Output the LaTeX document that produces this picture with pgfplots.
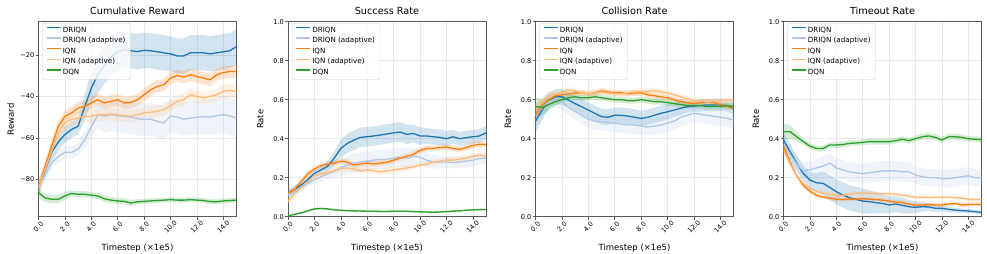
\documentclass[border=0pt]{standalone}
\usepackage{fontspec}
\setmainfont{DejaVu Sans}
\usepackage{pgfplots}
\pgfplotsset{compat=1.18}
\usepackage{pgfplotstable}
\usepgfplotslibrary{fillbetween}

\definecolor{cA}{HTML}{1F77B4}
\definecolor{cB}{HTML}{AEC7E8}
\definecolor{cC}{HTML}{FF7F0E}
\definecolor{cD}{HTML}{FFBB78}
\definecolor{cE}{HTML}{2CA02C}

% Cumulative reward
\pgfplotstableread{
x a as b bs c cs d ds e es
0.0 -84 3 -84 3 -84 3 -84 3 -86.4 2.5
0.5 -75.5 3 -78 3 -73.6 3 -75 3 -89 2
1.0 -67 4 -72 3 -64 3 -66.4 3 -89.6 2
1.5 -62 4 -69 3 -54.4 3 -57.6 3 -89.6 2
2.0 -58.4 4 -67 3 -49.6 3 -52.8 3 -88 2
2.5 -56 4 -67 3 -48 3 -51.2 3 -86.8 1.5
3.0 -54.4 4 -65.5 3 -45.6 3 -50.4 3 -87.2 1.5
3.5 -45 6 -61 4 -44.8 3 -49.6 3 -87.2 1.5
4.0 -36 8 -54.5 5 -43.2 3 -49.6 3 -87.6 1.5
4.5 -29.5 9 -49 6 -41.6 3 -48.8 3 -88 1.5
5.0 -25 9 -49.5 8 -43.2 3 -48.8 3 -89.4 1.5
5.5 -21 9 -48.8 8 -42.4 3 -48.5 3 -90 1.5
6.0 -18.5 9 -49.5 8 -41.6 3 -48.8 3 -90.4 1.5
6.5 -17.5 9 -49.5 8 -43.2 3 -49.3 3 -90.6 1.5
7.0 -18 8.5 -50 8 -42.9 3 -49.6 3 -91.4 1.5
7.5 -18.4 8.5 -50.7 8 -41.6 3 -48.8 3 -90.8 1.2
8.0 -17.8 8.5 -51.2 8 -39.2 3 -48 3 -90.6 1.2
8.5 -18 8.5 -51 8 -36.8 3 -47.7 3 -90.4 1.2
9.0 -18.5 8.5 -52 8 -35.2 3 -47.2 3 -90.2 1.2
9.5 -19 8.5 -52.8 8 -34.4 3 -46.4 3 -90 1.2
10.0 -19.5 8.5 -49.5 8 -31.2 3 -44.5 3 -89.8 1.2
10.5 -20.5 8.5 -50 8 -30 3 -42.4 3 -90 1.2
11.0 -20.5 8.5 -51 8 -30.7 3 -41.6 3 -90 1.2
11.5 -19 8.5 -50.5 8 -29.6 3 -39.2 3 -89.8 1.2
12.0 -19 8.5 -50 8 -30.4 3 -40 3 -90 1.2
12.5 -19 8.5 -49.8 8.5 -31.2 3 -40.8 3 -90.2 1.2
13.0 -19.5 8.5 -50 8.5 -32 3 -40 3 -90.7 1.2
13.5 -19 8.5 -49.3 8.5 -29.6 3 -39.2 3 -90.8 1.2
14.0 -18.5 8.5 -48.8 9 -28.5 3 -37.6 3 -90.4 1.2
14.5 -18 8.5 -49.5 9 -28 3 -37.1 3 -90.2 1.2
15.0 -16 8.5 -50.4 9 -28 3 -37.6 3 -90 1.2
}\tabR

% Success rate
\pgfplotstableread{
x a as b bs c cs d ds e es
0.0 0.12 0.02 0.11 0.02 0.12 0.015 0.08 0.015 0.005 0.004
0.5 0.14 0.02 0.13 0.02 0.14 0.015 0.12 0.015 0.012 0.004
1.0 0.162 0.02 0.15 0.02 0.18 0.015 0.15 0.015 0.02 0.005
1.5 0.19 0.02 0.17 0.02 0.22 0.015 0.18 0.015 0.03 0.005
2.0 0.222 0.02 0.19 0.02 0.245 0.015 0.21 0.015 0.04 0.005
2.5 0.24 0.02 0.205 0.025 0.262 0.015 0.22 0.015 0.042 0.005
3.0 0.258 0.025 0.22 0.03 0.27 0.015 0.225 0.015 0.04 0.005
3.5 0.30 0.035 0.235 0.035 0.275 0.015 0.235 0.015 0.035 0.005
4.0 0.35 0.045 0.25 0.04 0.285 0.015 0.245 0.015 0.033 0.005
4.5 0.376 0.05 0.265 0.045 0.28 0.015 0.25 0.015 0.031 0.005
5.0 0.393 0.05 0.275 0.05 0.265 0.015 0.245 0.015 0.03 0.005
5.5 0.407 0.05 0.28 0.05 0.27 0.015 0.235 0.015 0.029 0.005
6.0 0.41 0.05 0.285 0.05 0.275 0.015 0.24 0.015 0.028 0.005
6.5 0.414 0.05 0.29 0.05 0.27 0.015 0.235 0.015 0.028 0.005
7.0 0.419 0.05 0.295 0.05 0.275 0.015 0.23 0.015 0.027 0.005
7.5 0.424 0.05 0.295 0.05 0.28 0.015 0.235 0.015 0.027 0.005
8.0 0.43 0.05 0.30 0.05 0.29 0.015 0.24 0.015 0.028 0.005
8.5 0.434 0.05 0.305 0.05 0.30 0.015 0.245 0.015 0.028 0.005
9.0 0.422 0.05 0.30 0.05 0.31 0.015 0.25 0.015 0.028 0.005
9.5 0.427 0.045 0.31 0.045 0.32 0.015 0.255 0.015 0.026 0.005
10.0 0.414 0.045 0.305 0.04 0.34 0.015 0.265 0.015 0.025 0.005
10.5 0.414 0.04 0.29 0.04 0.35 0.015 0.27 0.015 0.024 0.005
11.0 0.41 0.04 0.28 0.035 0.35 0.015 0.28 0.015 0.023 0.005
11.5 0.407 0.04 0.28 0.03 0.355 0.015 0.285 0.015 0.024 0.005
12.0 0.40 0.04 0.28 0.03 0.357 0.015 0.29 0.015 0.026 0.005
12.5 0.41 0.035 0.278 0.03 0.35 0.015 0.29 0.015 0.028 0.005
13.0 0.40 0.035 0.28 0.03 0.345 0.015 0.295 0.015 0.03 0.005
13.5 0.405 0.035 0.285 0.03 0.355 0.015 0.30 0.015 0.033 0.005
14.0 0.41 0.035 0.29 0.03 0.365 0.015 0.31 0.015 0.035 0.005
14.5 0.414 0.035 0.298 0.03 0.372 0.015 0.315 0.015 0.036 0.005
15.0 0.43 0.035 0.30 0.03 0.37 0.015 0.31 0.015 0.037 0.005
}\tabS

% Collision rate
\pgfplotstableread{
x a as b bs c cs d ds e es
0.0 0.49 0.06 0.52 0.06 0.52 0.03 0.55 0.03 0.565 0.05
0.5 0.547 0.05 0.56 0.05 0.57 0.02 0.59 0.02 0.56 0.04
1.0 0.598 0.04 0.59 0.04 0.60 0.02 0.62 0.02 0.575 0.03
1.5 0.615 0.04 0.60 0.04 0.62 0.015 0.63 0.015 0.59 0.02
2.0 0.615 0.04 0.59 0.04 0.625 0.015 0.64 0.015 0.60 0.015
2.5 0.598 0.04 0.56 0.04 0.63 0.015 0.65 0.015 0.61 0.015
3.0 0.58 0.04 0.54 0.04 0.635 0.015 0.645 0.015 0.615 0.015
3.5 0.564 0.04 0.52 0.045 0.635 0.015 0.635 0.015 0.61 0.015
4.0 0.547 0.04 0.50 0.045 0.63 0.015 0.63 0.015 0.61 0.015
4.5 0.53 0.04 0.49 0.045 0.635 0.015 0.635 0.015 0.615 0.015
5.0 0.513 0.04 0.485 0.045 0.645 0.015 0.64 0.015 0.61 0.015
5.5 0.51 0.04 0.485 0.045 0.64 0.015 0.635 0.015 0.605 0.015
6.0 0.52 0.04 0.48 0.045 0.635 0.015 0.63 0.015 0.60 0.015
6.5 0.52 0.04 0.475 0.045 0.635 0.015 0.63 0.015 0.60 0.015
7.0 0.516 0.04 0.47 0.045 0.63 0.015 0.635 0.015 0.595 0.015
7.5 0.51 0.04 0.47 0.045 0.635 0.015 0.64 0.015 0.595 0.015
8.0 0.504 0.04 0.465 0.045 0.635 0.015 0.64 0.015 0.60 0.015
8.5 0.51 0.04 0.46 0.045 0.625 0.015 0.645 0.015 0.595 0.015
9.0 0.52 0.04 0.465 0.045 0.62 0.015 0.645 0.015 0.59 0.015
9.5 0.53 0.04 0.47 0.045 0.615 0.015 0.64 0.015 0.59 0.015
10.0 0.538 0.04 0.48 0.045 0.61 0.015 0.635 0.015 0.585 0.015
10.5 0.547 0.035 0.49 0.045 0.60 0.015 0.625 0.015 0.58 0.015
11.0 0.556 0.035 0.51 0.045 0.59 0.015 0.615 0.015 0.575 0.015
11.5 0.564 0.03 0.52 0.045 0.585 0.015 0.605 0.015 0.57 0.015
12.0 0.567 0.03 0.53 0.045 0.58 0.015 0.595 0.015 0.57 0.015
12.5 0.57 0.03 0.525 0.045 0.585 0.015 0.595 0.015 0.57 0.015
13.0 0.573 0.03 0.52 0.045 0.59 0.015 0.59 0.015 0.565 0.015
13.5 0.573 0.03 0.515 0.045 0.585 0.015 0.59 0.015 0.565 0.015
14.0 0.573 0.03 0.51 0.045 0.575 0.015 0.595 0.015 0.565 0.015
14.5 0.57 0.03 0.505 0.045 0.565 0.015 0.60 0.015 0.57 0.015
15.0 0.555 0.03 0.495 0.045 0.56 0.015 0.595 0.015 0.565 0.015
}\tabC

% Timeout rate
\pgfplotstableread{
x a as b bs c cs d ds e es
0.0 0.393 0.04 0.37 0.04 0.36 0.02 0.34 0.02 0.436 0.04
0.5 0.333 0.04 0.32 0.04 0.28 0.015 0.27 0.015 0.436 0.035
1.0 0.274 0.04 0.27 0.04 0.21 0.01 0.21 0.01 0.41 0.025
1.5 0.222 0.04 0.235 0.04 0.16 0.01 0.17 0.01 0.385 0.015
2.0 0.188 0.04 0.24 0.04 0.13 0.01 0.145 0.01 0.362 0.015
2.5 0.174 0.05 0.25 0.045 0.11 0.01 0.13 0.01 0.35 0.015
3.0 0.171 0.06 0.26 0.05 0.10 0.01 0.12 0.01 0.35 0.015
3.5 0.15 0.065 0.275 0.05 0.095 0.01 0.115 0.01 0.368 0.015
4.0 0.128 0.065 0.25 0.05 0.09 0.01 0.11 0.01 0.368 0.015
4.5 0.111 0.065 0.24 0.05 0.088 0.01 0.11 0.01 0.37 0.015
5.0 0.097 0.065 0.23 0.05 0.09 0.01 0.115 0.01 0.376 0.015
5.5 0.089 0.065 0.225 0.05 0.09 0.01 0.12 0.01 0.378 0.015
6.0 0.08 0.065 0.22 0.05 0.092 0.01 0.12 0.01 0.381 0.015
6.5 0.077 0.06 0.225 0.05 0.09 0.01 0.12 0.01 0.385 0.015
7.0 0.072 0.055 0.23 0.05 0.088 0.01 0.118 0.01 0.385 0.015
7.5 0.068 0.05 0.235 0.05 0.085 0.01 0.118 0.01 0.385 0.015
8.0 0.06 0.045 0.235 0.05 0.08 0.01 0.118 0.01 0.385 0.015
8.5 0.065 0.04 0.235 0.05 0.075 0.01 0.115 0.01 0.39 0.015
9.0 0.058 0.04 0.23 0.05 0.072 0.01 0.11 0.01 0.397 0.015
9.5 0.051 0.035 0.23 0.05 0.065 0.01 0.105 0.01 0.39 0.015
10.0 0.048 0.03 0.215 0.045 0.058 0.01 0.10 0.01 0.40 0.015
10.5 0.051 0.025 0.205 0.045 0.06 0.01 0.10 0.01 0.41 0.015
11.0 0.05 0.02 0.20 0.045 0.062 0.01 0.098 0.01 0.414 0.015
11.5 0.043 0.02 0.20 0.045 0.06 0.01 0.10 0.01 0.407 0.015
12.0 0.043 0.015 0.195 0.045 0.06 0.01 0.10 0.01 0.393 0.015
12.5 0.038 0.015 0.195 0.045 0.065 0.01 0.10 0.01 0.41 0.015
13.0 0.034 0.012 0.20 0.045 0.068 0.01 0.098 0.01 0.41 0.015
13.5 0.031 0.01 0.205 0.045 0.06 0.01 0.095 0.01 0.407 0.015
14.0 0.029 0.01 0.21 0.045 0.062 0.01 0.09 0.01 0.40 0.015
14.5 0.026 0.01 0.20 0.045 0.063 0.01 0.088 0.01 0.397 0.015
15.0 0.022 0.01 0.20 0.045 0.063 0.01 0.088 0.01 0.395 0.015
}\tabT

% #1 table, #2 mean column, #3 spread column, #4 colour, #5 path prefix, #6 legend text
\newcommand{\series}[6]{%
  \addplot[draw=none, forget plot, name path=#5u] table[x=x, y expr=\thisrow{#2}+\thisrow{#3}] {#1};
  \addplot[draw=none, forget plot, name path=#5l] table[x=x, y expr=\thisrow{#2}-\thisrow{#3}] {#1};
  \addplot[fill=#4, fill opacity=0.2, draw=none, forget plot] fill between[of=#5u and #5l];
  \addplot[color=#4, line width=1.3pt] table[x=x, y=#2] {#1};
  \addlegendentry{#6}
}

\pgfplotsset{
  panel/.style={
    width=198pt, height=195pt, scale only axis,
    xmin=0, xmax=15,
    xtick={0,2,4,6,8,10,12,14},
    xticklabels={0.0,2.0,4.0,6.0,8.0,10.0,12.0,14.0},
    xticklabel style={font=\fontsize{6.6}{7}\selectfont, rotate=45, anchor=center, inner sep=0.5pt},
    xticklabel shift=7pt,
    yticklabel style={font=\fontsize{6.6}{7}\selectfont, inner sep=1pt},
    tick align=outside, tick pos=left,
    major tick length=3pt,
    tick style={black!65, line width=0.6pt},
    axis line style={black!65, line width=0.7pt},
    grid=major,
    major grid style={black!9, line width=0.6pt},
    title style={font=\fontsize{9.7}{11}\selectfont, at={(axis description cs:0.5,1)}, anchor=base, yshift=1pt, inner sep=0pt},
    xlabel={Timestep (×1e5)},
    xlabel style={font=\fontsize{8.5}{10}\selectfont, at={(axis description cs:0.5,-0.163)}, anchor=center, inner sep=0pt},
    ylabel style={font=\fontsize{8.5}{10}\selectfont, at={(axis description cs:-0.14,0.5)}, anchor=center, inner sep=0pt},
    legend style={at={(axis description cs:0.019,0.993)}, anchor=north west,
      font=\fontsize{7.15}{8}\selectfont, draw=black!20, rounded corners=1.5pt,
      fill=white, fill opacity=0.8, draw opacity=1, text opacity=1,
      inner xsep=3.5pt, inner ysep=3.5pt, row sep=3.8pt,
      nodes={inner xsep=1.5pt, inner ysep=0pt, text height=5.3pt, text depth=1.5pt}},
    legend cell align=left,
    legend image code/.code={\draw[#1, line width=1.4pt, draw opacity=1] (0pt,2.6pt) -- (14pt,2.6pt);},
  }
}

\begin{document}
\begin{tikzpicture}
\path (0,0) rectangle (987pt,254pt);

\begin{axis}[panel, at={(38.5pt,37.3pt)}, anchor=south west,
  title={Cumulative Reward}, ylabel={Reward},
  ymin=-98, ymax=-4,
  ytick={-80,-60,-40,-20}, yticklabels={−80,−60,−40,−20}]
\series{\tabR}{a}{as}{cA}{ra}{DRIQN}
\series{\tabR}{b}{bs}{cB}{rb}{DRIQN (adaptive)}
\series{\tabR}{c}{cs}{cC}{rc}{IQN}
\series{\tabR}{d}{ds}{cD}{rd}{IQN (adaptive)}
\series{\tabR}{e}{es}{cE}{re}{DQN}
\end{axis}

\begin{axis}[panel, at={(288pt,37.3pt)}, anchor=south west,
  title={Success Rate}, ylabel={Rate},
  ymin=0, ymax=1,
  ytick={0,0.2,0.4,0.6,0.8,1}, yticklabels={0.0,0.2,0.4,0.6,0.8,1.0}]
\series{\tabS}{a}{as}{cA}{sa}{DRIQN}
\series{\tabS}{b}{bs}{cB}{sb}{DRIQN (adaptive)}
\series{\tabS}{c}{cs}{cC}{sc}{IQN}
\series{\tabS}{d}{ds}{cD}{sd}{IQN (adaptive)}
\series{\tabS}{e}{es}{cE}{se}{DQN}
\end{axis}

\begin{axis}[panel, at={(535.5pt,37.3pt)}, anchor=south west,
  title={Collision Rate}, ylabel={Rate},
  ymin=0, ymax=1,
  ytick={0,0.2,0.4,0.6,0.8,1}, yticklabels={0.0,0.2,0.4,0.6,0.8,1.0}]
\series{\tabC}{a}{as}{cA}{ca}{DRIQN}
\series{\tabC}{b}{bs}{cB}{cb}{DRIQN (adaptive)}
\series{\tabC}{c}{cs}{cC}{cc}{IQN}
\series{\tabC}{d}{ds}{cD}{cd}{IQN (adaptive)}
\series{\tabC}{e}{es}{cE}{ce}{DQN}
\end{axis}

\begin{axis}[panel, at={(783.5pt,37.3pt)}, anchor=south west,
  title={Timeout Rate}, ylabel={Rate},
  ymin=0, ymax=1,
  ytick={0,0.2,0.4,0.6,0.8,1}, yticklabels={0.0,0.2,0.4,0.6,0.8,1.0}]
\series{\tabT}{a}{as}{cA}{ta}{DRIQN}
\series{\tabT}{b}{bs}{cB}{tb}{DRIQN (adaptive)}
\series{\tabT}{c}{cs}{cC}{tc}{IQN}
\series{\tabT}{d}{ds}{cD}{td}{IQN (adaptive)}
\series{\tabT}{e}{es}{cE}{te}{DQN}
\end{axis}
\end{tikzpicture}
\end{document}
